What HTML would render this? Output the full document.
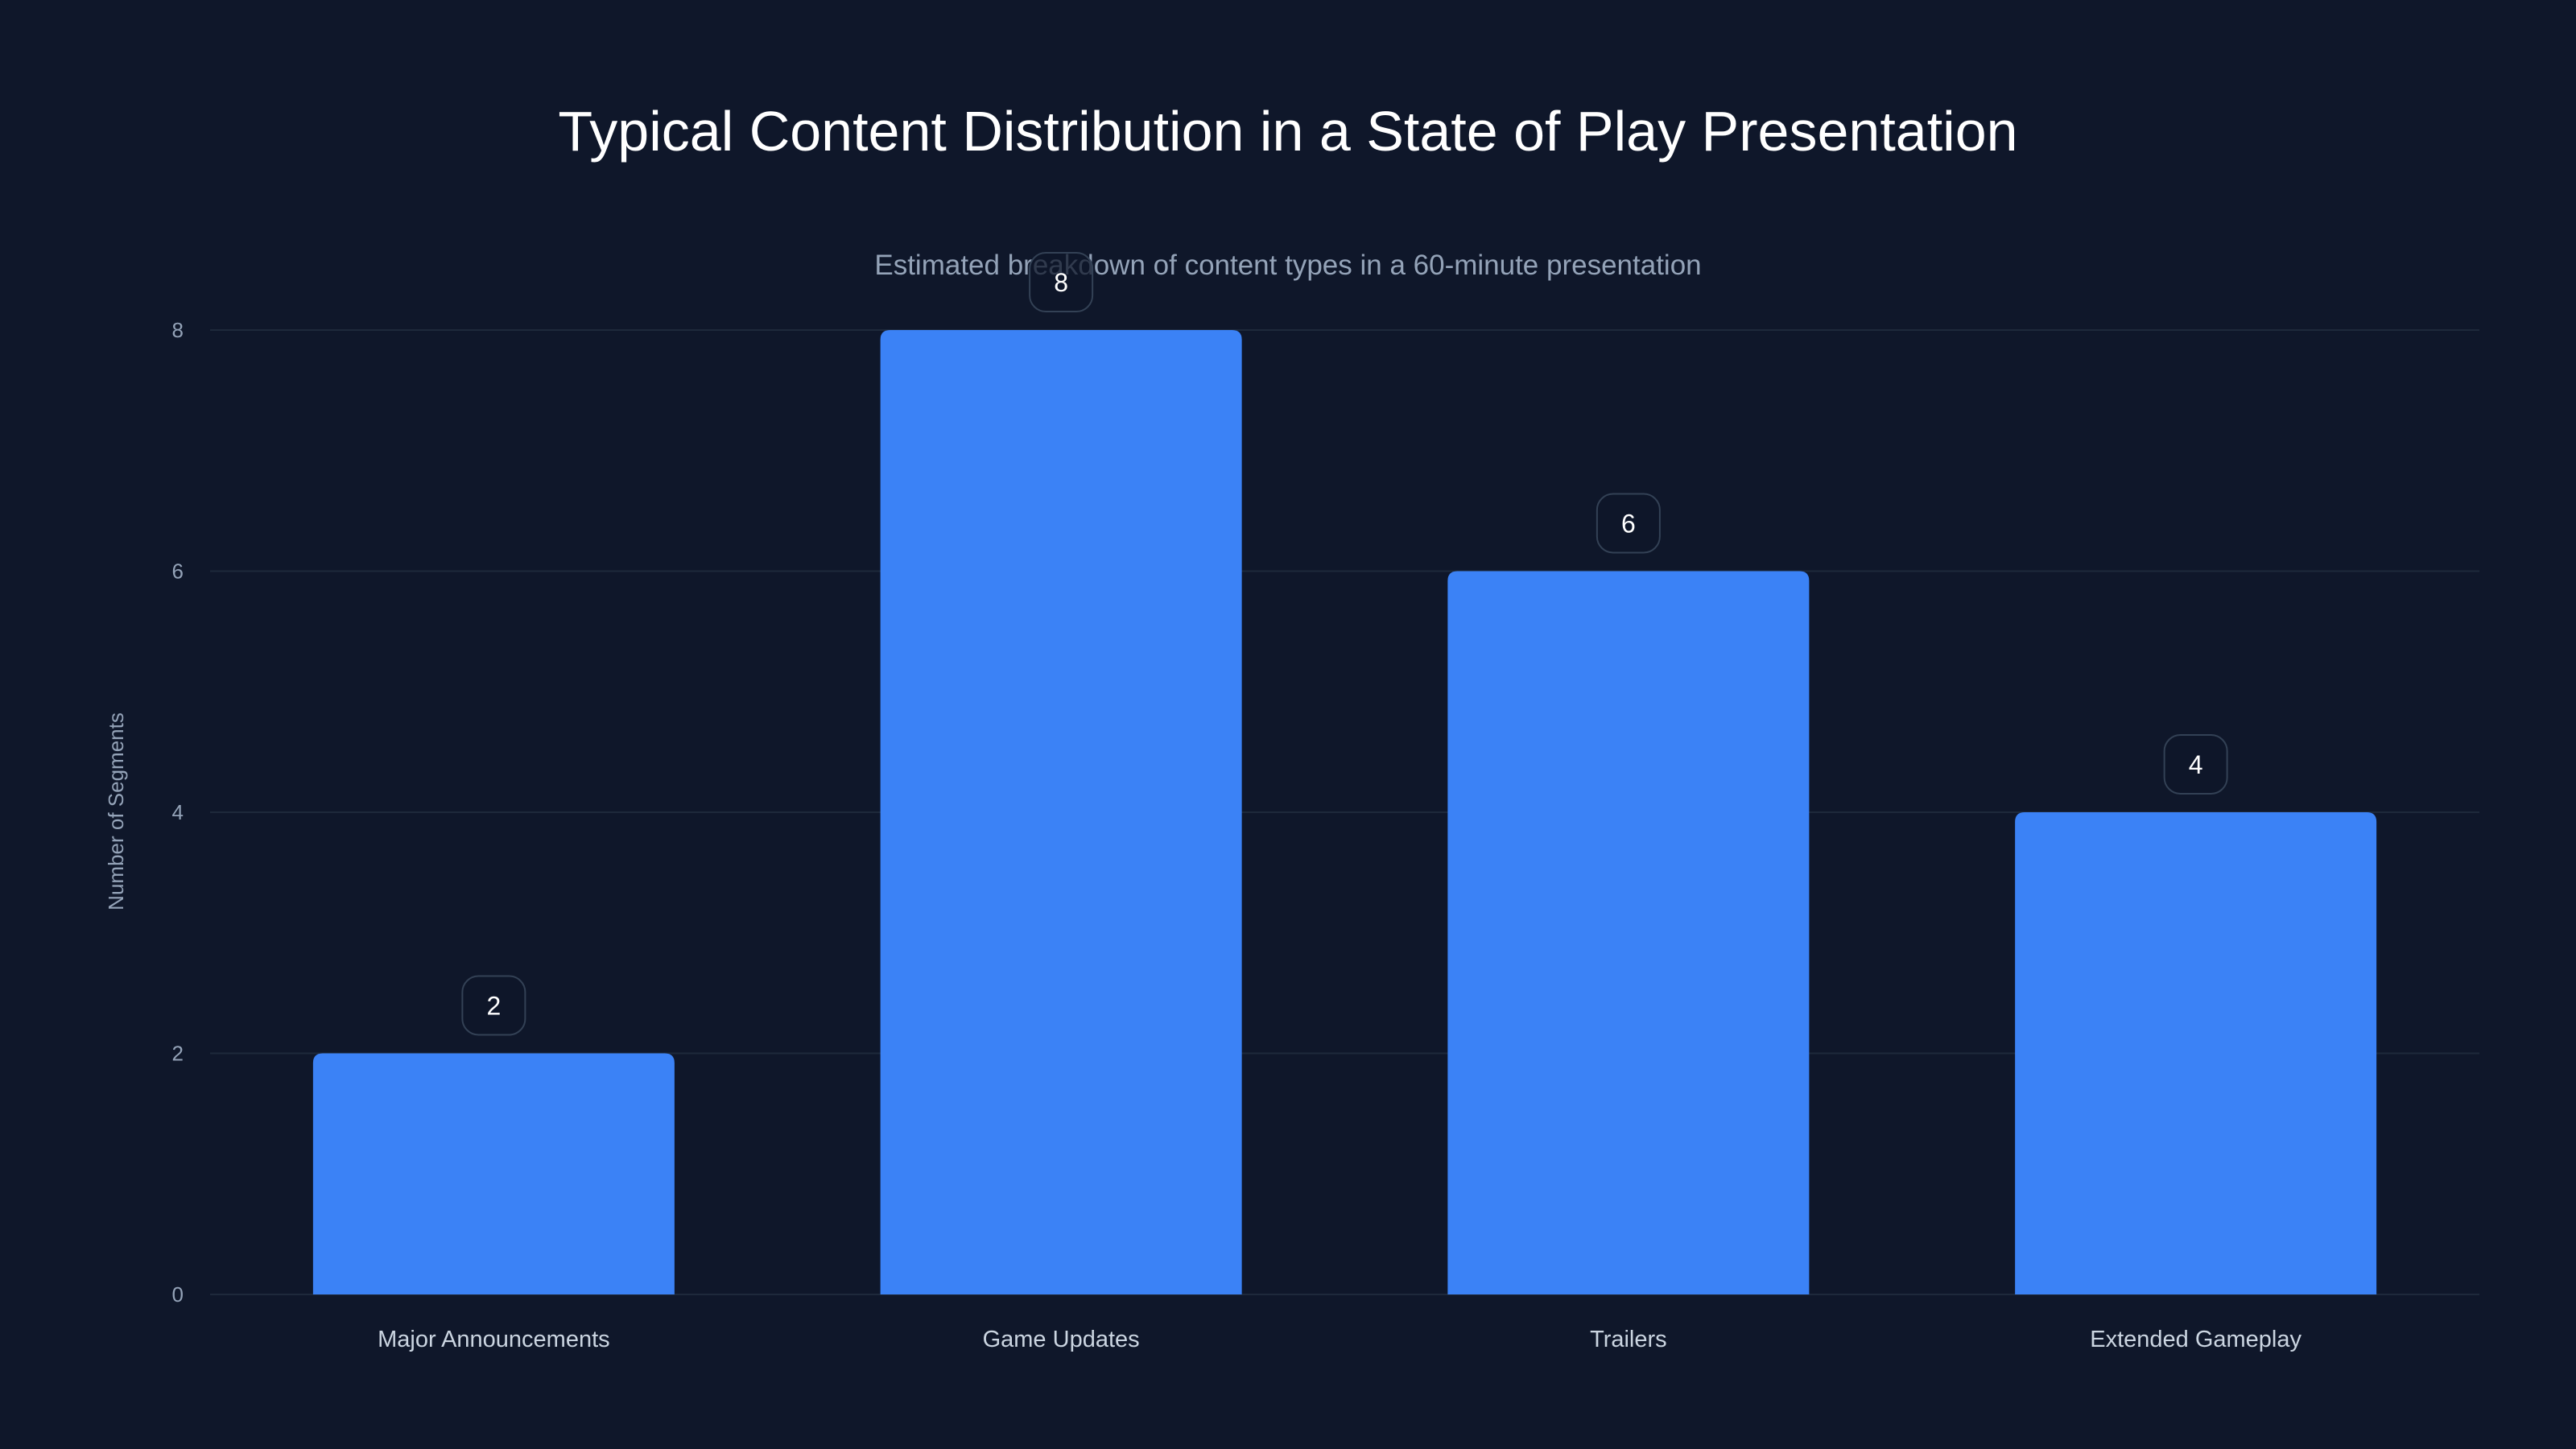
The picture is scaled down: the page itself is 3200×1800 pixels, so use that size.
<!DOCTYPE html>
<html><head><meta charset="utf-8"><style>
html,body{margin:0;padding:0;background:#0f172a;}
svg{display:block;font-family:"Liberation Sans",sans-serif;}
</style></head><body>
<svg id="chart" width="3200" height="1800" viewBox="0 0 3200 1800" xmlns="http://www.w3.org/2000/svg">
<rect width="3200" height="1800" fill="#0f172a"/>
<text x="1600" y="187" text-anchor="middle" font-size="70" fill="#ffffff">Typical Content Distribution in a State of Play Presentation</text>
<text x="1600" y="341" text-anchor="middle" font-size="35" fill="#94a3b8">Estimated breakdown of content types in a 60-minute presentation</text>
<text transform="translate(153,1008) rotate(-90)" text-anchor="middle" font-size="26" fill="#94a3b8">Number of Segments</text>
<g id="grid"></g><g id="bars"></g><g id="labels"></g>
</svg>
<script>
const categories = ["Major Announcements","Game Updates","Trailers","Extended Gameplay"];
const values = [2,8,6,4];
const yTicks = [0,2,4,6,8];
const NS="http://www.w3.org/2000/svg";
const plotL=261,plotR=3080,plotT=410,plotB=1608,yMax=8;
const yScale=v=>plotB-(v/yMax)*(plotB-plotT);
const band=(plotR-plotL)/categories.length;
const bw=449;
const xScale=i=>plotL+band*i+(band-bw)/2;
function mk(tag,attrs,parent){const e=document.createElementNS(NS,tag);for(const k in attrs)e.setAttribute(k,attrs[k]);parent.appendChild(e);return e;}
const grid=document.getElementById('grid'),bars=document.getElementById('bars'),labels=document.getElementById('labels');
yTicks.forEach(t=>{
  const l=mk('line',{x1:plotL,x2:plotR,y1:yScale(t),y2:yScale(t),stroke:'#1e293b','stroke-width':2},grid);
  
  
  const tx=mk('text',{x:228,y:yScale(t)+9,'text-anchor':'end','font-size':26,fill:'#94a3b8'},grid);
  tx.textContent=t;
  
  
});
categories.forEach((c,i)=>{
  const v=values[i],x0=xScale(i),yt=yScale(v),r=12;
  const p=mk('path',{d:`M${x0},${plotB}V${yt+r}Q${x0},${yt} ${x0+r},${yt}H${x0+bw-r}Q${x0+bw},${yt} ${x0+bw},${yt+r}V${plotB}Z`,fill:'#3b82f6'},bars);
  
  
  const cx=x0+bw/2;
  const b=mk('rect',{x:cx-39,y:yt-96,width:78,height:73,rx:20,fill:'rgba(15,23,42,0.75)',stroke:'#334155','stroke-width':2},labels);
  
  
  const vt=mk('text',{x:cx,y:yt-48,'text-anchor':'middle','font-size':32,fill:'#ffffff'},labels);
  vt.textContent=v;
  
  
  const ct=mk('text',{x:cx,y:1673,'text-anchor':'middle','font-size':29,fill:'#cbd5e1'},labels);
  ct.textContent=c;
  
  
});
</script>
</body></html>
